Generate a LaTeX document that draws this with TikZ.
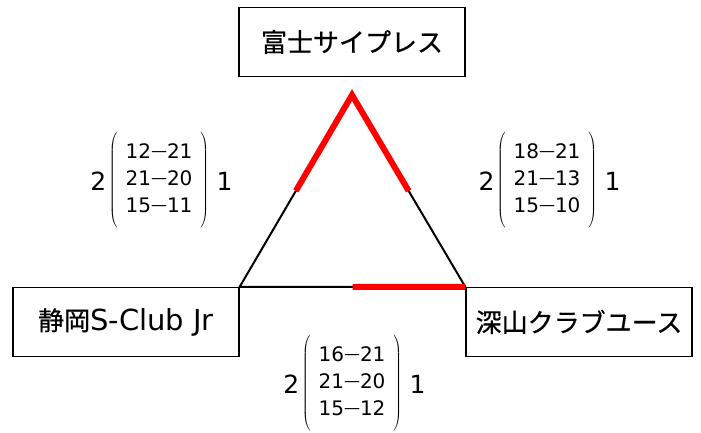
\documentclass[tikz,border=0pt]{standalone}
\usepackage{fontspec}
\usepackage{array}
\usepackage{tikz}
\usetikzlibrary{positioning,calc}
\setmainfont{DejaVu Sans}
\newfontfamily\jp[FakeBold=0.6]{Noto Sans CJK JP}
\definecolor{winred}{HTML}{FF0000}
\tikzset{
  team/.style={draw,line width=1.4pt,minimum width=226pt,minimum height=69pt,inner sep=0pt,font=\jp\fontsize{26}{30}\selectfont},
  games/.style={inner sep=0pt,font=\fontsize{20}{27}\selectfont},
  sets/.style={inner sep=0pt,font=\fontsize{25}{30}\selectfont}
}
\newcommand{\dsh}{\raisebox{2pt}{\fontsize{16}{16}\selectfont —}}
\newcommand{\scores}[3]{$\left(\rule[-44pt]{0pt}{91pt}\setlength\tabcolsep{8pt}\begin{tabular}{c}#1\\#2\\#3\end{tabular}\right)$}

\begin{document}
\begin{tikzpicture}[x=1pt,y=-1pt]
\useasboundingbox (0,0) rectangle (701,432);
\node[team] (fuji) at (352,42) {富士サイプレス};
\node[team] (shizu) at (126,322) {静岡{\fontspec{DejaVu Sans}\fontsize{29}{30}\selectfont S-Club Jr}};
\node[team] (miyama) at (579,322) {深山クラブユース};
\coordinate (apex) at (352,95);
% triangle of matches
\draw[line width=2pt] (shizu.north east)--(apex)--(miyama.north west)--cycle;
\draw[winred,line width=6pt] ($(apex)!0.5!(shizu.north east)$)--(apex)--($(apex)!0.5!(miyama.north west)$);
\draw[winred,line width=6pt] ($(shizu.north east)!0.5!(miyama.north west)$)--(miyama.north west);
% game scores
\node[games] (gL) at (159,181) {\scores{12\dsh21}{21\dsh20}{15\dsh11}};
\node[sets,left=2pt of gL] (gLa) {2};
\node[sets,right=7pt of gL] (gLb) {1};
\node[games] (gR) at (547,181) {\scores{18\dsh21}{21\dsh13}{15\dsh10}};
\node[sets,left=2pt of gR] (gRa) {2};
\node[sets,right=7pt of gR] (gRb) {1};
\node[games] (gB) at (352,384) {\scores{16\dsh21}{21\dsh20}{15\dsh12}};
\node[sets,left=2pt of gB] (gBa) {2};
\node[sets,right=7pt of gB] (gBb) {1};
\end{tikzpicture}
\end{document}
